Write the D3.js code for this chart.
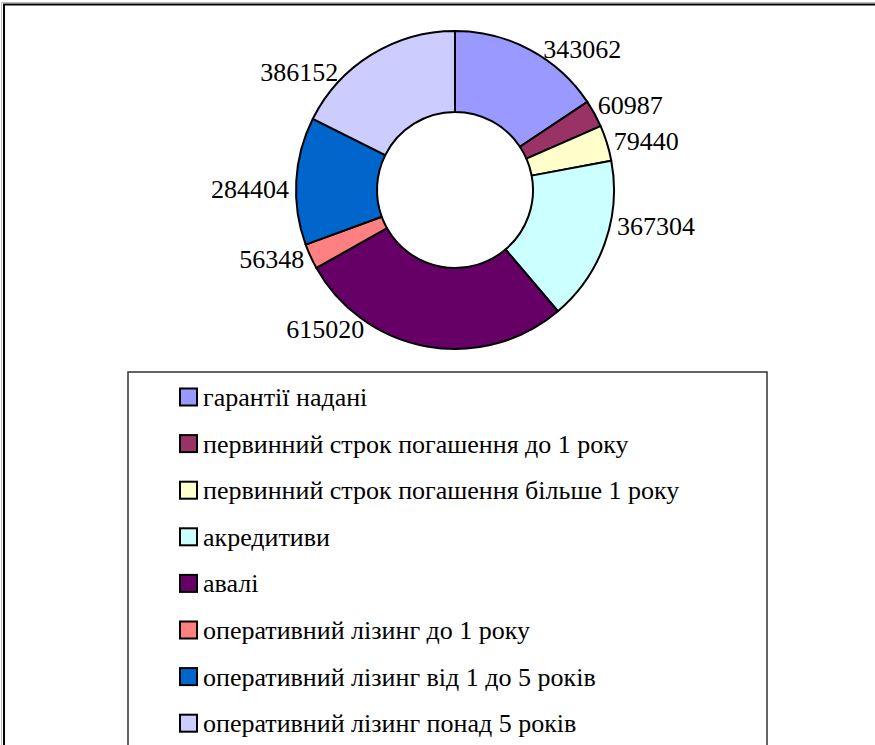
<!DOCTYPE html>
<html>
<head>
<meta charset="utf-8">
<script src="https://cdn.jsdelivr.net/npm/d3@7"></script>
</head>
<body style="margin:0">
<div id="frame_div"></div>
<script>
// chart data
const categories = [
  "гарантії надані",
  "первинний строк погашення до 1 року",
  "первинний строк погашення більше 1 року",
  "акредитиви",
  "авалі",
  "оперативний лізинг до 1 року",
  "оперативний лізинг від 1 до 5 років",
  "оперативний лізинг понад 5 років"
];
const values = [343062, 60987, 79440, 367304, 615020, 56348, 284404, 386152];
const colors = ["#9999FF", "#993366", "#FFFFCC", "#CCFFFF", "#660066", "#FF8080", "#0066CC", "#CCCCFF"];

// layout constants
const FRAME_WIDTH = 875;
const FRAME_HEIGHT = 745;
const CENTER = {x: 455, y: 190};
const R_OUT = 159;
const R_IN = 78;
const LABEL_R = 166;
const FONT = "Times New Roman";
// small angle nudges (degrees) so labels sit where the original put them
const LABEL_SHIFT = [4, -2, 0, -7, 23, 0, -3, -13];

const LEGEND = {x: 128, y: 372, w: 639, row0: 397, rowStep: 46.6, box: 17};

const FRAME = d3.select("#frame_div")
  .append("svg")
    .attr("width", FRAME_WIDTH)
    .attr("height", FRAME_HEIGHT)
    .attr("font-family", FONT)
    .style("display", "block");

// outer frame (only top and left show)
FRAME.append("path")
  .attr("d", `M1.5,${FRAME_HEIGHT} V2.5 H${FRAME_WIDTH}`)
  .attr("fill", "none").attr("stroke", "#bbb").attr("stroke-width", 1);
FRAME.append("path")
  .attr("d", `M4,${FRAME_HEIGHT} V4.5 H${FRAME_WIDTH}`)
  .attr("fill", "none").attr("stroke", "#000").attr("stroke-width", 2);

// doughnut
const pie = d3.pie().sort(null).value(d => d);
const arcs = pie(values);
const arc = d3.arc().innerRadius(R_IN).outerRadius(R_OUT);

const g = FRAME.append("g").attr("transform", `translate(${CENTER.x},${CENTER.y})`);

g.selectAll("path.slice")
  .data(arcs)
  .enter()
  .append("path")
    .attr("class", "slice")
    .attr("d", arc)
    .attr("fill", (d, i) => colors[i])
    .attr("stroke", "#000")
    .attr("stroke-width", 2)
    .attr("stroke-linejoin", "round");

// value labels, placed from the arc midpoints
arcs.forEach((d, i) => {
  const a = (d.startAngle + d.endAngle) / 2 + LABEL_SHIFT[i] * Math.PI / 180;
  const s = Math.sin(a);
  FRAME.append("text")
    .attr("font-family", FONT)
    .attr("font-size", 26)
    .attr("x", CENTER.x + LABEL_R * s)
    .attr("y", CENTER.y - LABEL_R * Math.cos(a) + 9)
    .attr("text-anchor", s > 0.15 ? "start" : (s < -0.15 ? "end" : "middle"))
    .text(values[i]);
});

// legend
FRAME.append("path")
  .attr("d", `M${LEGEND.x},${FRAME_HEIGHT + 5} V${LEGEND.y} H${LEGEND.x + LEGEND.w} V${FRAME_HEIGHT + 5}`)
  .attr("fill", "none").attr("stroke", "#333").attr("stroke-width", 1.5);

categories.forEach((c, i) => {
  const cy = LEGEND.row0 + i * LEGEND.rowStep;
  FRAME.append("rect")
    .attr("x", 180)
    .attr("y", cy - LEGEND.box / 2)
    .attr("width", LEGEND.box)
    .attr("height", LEGEND.box)
    .attr("fill", colors[i])
    .attr("stroke", "#000")
    .attr("stroke-width", 2);
  FRAME.append("text")
    .attr("font-family", FONT)
    .attr("font-size", 26)
    .attr("x", 203)
    .attr("y", cy + 9)
    .text(c);
});
</script>
</body>
</html>
